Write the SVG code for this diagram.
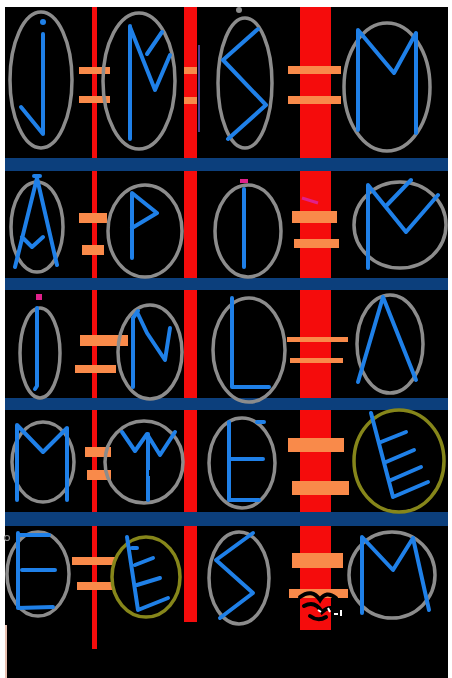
<svg xmlns="http://www.w3.org/2000/svg" width="452" height="678" viewBox="0 0 452 678">
<style>
.rn{fill:none;stroke:#1f80e8;stroke-width:4;stroke-linecap:round;stroke-linejoin:round}
.el{fill:none;stroke:#8c8c8c;stroke-width:3.5}
.ol{fill:none;stroke:#86861a;stroke-width:3.5}
.or{fill:#f98a4a}
.rd{fill:#f50c0c}
.bb{fill:#0c3f7c}
</style>
<rect width="452" height="678" fill="#ffffff"/>
<rect x="5" y="7" width="443" height="671" fill="#000000"/>
<line x1="6" y1="625" x2="6" y2="678" stroke="#e8c0b0" stroke-width="2"/>

<g id="red-lines">
<rect class="rd" x="92" y="7" width="5" height="642"/>
<rect class="rd" x="184" y="7" width="13" height="615"/>
<rect class="rd" x="300" y="7" width="31" height="623"/>
<line x1="199" y1="45" x2="199" y2="132" stroke="#4a3c8c" stroke-width="2"/>
</g>

<g id="blue-bars">
<rect class="bb" x="5" y="158" width="443" height="13"/>
<rect class="bb" x="5" y="278" width="443" height="12"/>
<rect class="bb" x="5" y="398" width="443" height="12"/>
<rect class="bb" x="5" y="512" width="443" height="14"/>
</g>

<g id="equals">
<rect class="or" x="79" y="67" width="31" height="7"/>
<rect class="or" x="79" y="96" width="31" height="7"/>
<rect class="or" x="184" y="67" width="13" height="7"/>
<rect class="or" x="184" y="97" width="13" height="7"/>
<rect class="or" x="288" y="66" width="53" height="8"/>
<rect class="or" x="288" y="96" width="53" height="8"/>

<rect class="or" x="79" y="213" width="28" height="10"/>
<rect class="or" x="82" y="245" width="22" height="10"/>
<rect class="or" x="292" y="211" width="45" height="12"/>
<rect class="or" x="294" y="239" width="45" height="9"/>

<rect class="or" x="80" y="335" width="48" height="11"/>
<rect class="or" x="75" y="365" width="41" height="8"/>
<rect class="or" x="287" y="337" width="61" height="5"/>
<rect class="or" x="290" y="358" width="53" height="5"/>

<rect class="or" x="85" y="447" width="26" height="10"/>
<rect class="or" x="87" y="470" width="24" height="10"/>
<rect class="or" x="288" y="438" width="56" height="14"/>
<rect class="or" x="292" y="481" width="57" height="14"/>

<rect class="or" x="72" y="557" width="43" height="8"/>
<rect class="or" x="77" y="582" width="36" height="8"/>
<rect class="or" x="292" y="553" width="51" height="15"/>
<rect class="or" x="289" y="589" width="59" height="9"/>
</g>

<g id="row1">
<ellipse class="el" cx="41" cy="80" rx="31" ry="68"/>
<circle cx="43" cy="22" r="3" fill="#1f80e8"/>
<path class="rn" d="M43,34 L43,134 L21,107"/>
<ellipse class="el" cx="139" cy="81" rx="36" ry="68"/>
<path class="rn" d="M130,26 L130,139 M130,27 L155,90 L170,55 M147,54 L162,32"/>
<ellipse class="el" cx="245" cy="83" rx="27" ry="65"/>
<circle cx="239" cy="10" r="3" fill="#8c8c8c"/>
<path class="rn" d="M258,29 L223,60 L266,105 L228,139"/>
<ellipse class="el" cx="387" cy="87" rx="43" ry="64"/>
<path class="rn" d="M358,130 L358,30 L394,73 L416,33 L416,133"/>
</g>

<g id="row2">
<ellipse class="el" cx="37" cy="227" rx="26" ry="45"/>
<path class="rn" d="M15,267 L37,178 L57,265 M22,237 L32,247 L43,237 M34,176 L40,176"/>
<ellipse class="el" cx="145" cy="231" rx="37" ry="46"/>
<path class="rn" d="M132,258 L132,193 L157,213 L132,228"/>
<ellipse class="el" cx="248" cy="231" rx="33" ry="46"/>
<path class="rn" d="M244,189 L244,267"/>
<rect x="240" y="179" width="8" height="4" fill="#e0208a"/>
<line x1="302" y1="198" x2="318" y2="203" stroke="#e0208a" stroke-width="3"/>
<ellipse class="el" cx="400" cy="225" rx="46" ry="43"/>
<path class="rn" d="M368,268 L368,185 L406,232 L438,195 M411,180 L387,205"/>
</g>

<g id="row3">
<ellipse class="el" cx="40" cy="353" rx="20" ry="45"/>
<rect x="36" y="294" width="6" height="6" fill="#e0208a"/>
<path class="rn" d="M37,308 L37,386 L35,389"/>
<ellipse class="el" cx="150" cy="352" rx="32" ry="47"/>
<path class="rn" d="M133,387 L133,318 L138,311 M137,312 L147,333 L165,360 L170,328"/>
<ellipse class="el" cx="249" cy="350" rx="36" ry="52"/>
<path class="rn" d="M232,298 L232,387 L269,387"/>
<ellipse class="el" cx="390" cy="344" rx="33" ry="49"/>
<path class="rn" d="M358,382 L383,297 L416,380"/>
</g>

<g id="row4">
<ellipse class="el" cx="43" cy="462" rx="31" ry="40"/>
<path class="rn" d="M17,500 L17,425 L43,452 L67,428 L67,500"/>
<ellipse class="el" cx="144" cy="462" rx="39" ry="41"/>
<path class="rn" d="M122,432 L135,451 L147,434 L160,455 L175,432 M148,434 L148,500"/>
<line x1="150" y1="470" x2="150" y2="476" stroke="#000" stroke-width="2"/>
<ellipse class="el" cx="242" cy="463" rx="33" ry="45"/>
<path class="rn" d="M229,422 L229,500 L259,500 M229,459 L263,459 M257,422 L264,422"/>
<ellipse class="ol" cx="399" cy="461" rx="45" ry="51"/>
<path class="rn" d="M371,413 L393,497 L428,482 M381,442 L406,432 M386,462 L414,450 M391,480 L421,467"/>
</g>

<g id="row5">
<ellipse class="el" cx="38" cy="574" rx="31" ry="42"/>
<circle cx="7" cy="538" r="2.5" fill="none" stroke="#8c8c8c" stroke-width="1.2"/>
<path class="rn" d="M18,533 L18,608 L53,607 M18,535 L49,535 M22,570 L55,570"/>
<ellipse class="ol" cx="146" cy="577" rx="34" ry="40"/>
<path class="rn" d="M127,537 L138,610 L168,598 M132,548 L137,548 M135,565 L153,558 M137,585 L160,578"/>
<ellipse class="el" cx="239" cy="578" rx="30" ry="46"/>
<path class="rn" d="M253,533 L216,560 L253,593 L220,618"/>
<ellipse class="el" cx="392" cy="575" rx="43" ry="43"/>
<path class="rn" d="M362,613 L362,537 L393,570 L413,538 L429,610"/>
<g id="scribble">
<path d="M300,597 Q312,588 320,600 Q326,590 336,598 M304,606 Q315,600 322,612 Q330,604 340,612 M310,616 Q318,622 326,617" fill="none" stroke="#000" stroke-width="4" stroke-linecap="round"/>
<path d="M318,610 l3,2 M328,608 l2,4 M334,614 l4,0 M341,610 l0,6" stroke="#fff" stroke-width="2" fill="none"/>
</g>
</g>
</svg>
